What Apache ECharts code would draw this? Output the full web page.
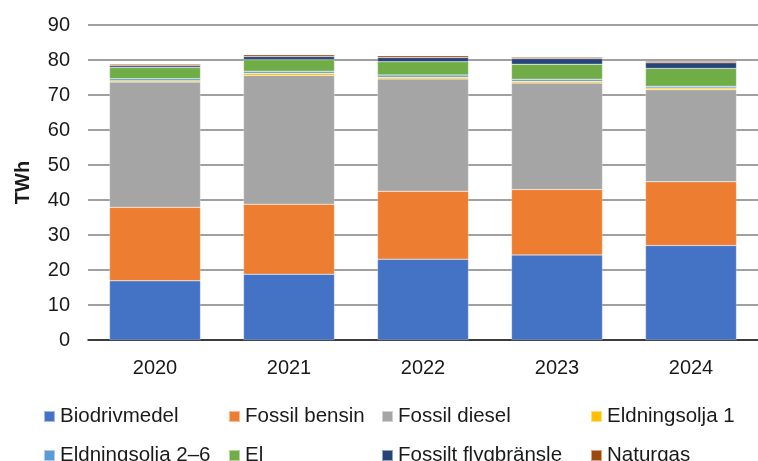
<!DOCTYPE html>
<html>
<head>
<meta charset="utf-8">
<script src="https://cdn.jsdelivr.net/npm/echarts@6/dist/echarts.min.js"></script>
<style>
  html, body { margin: 0; padding: 0; background: #fff; }
  #chart { width: 758px; height: 461px; }
</style>
</head>
<body>
<div id="chart"></div>
<script>
// Energy use in the transport sector by energy carrier, TWh per year
const years = ['2020', '2021', '2022', '2023', '2024'];
const yTicks = { min: 0, max: 90, step: 10 };

const biodrivmedel     = [16.9, 18.8, 23.1, 24.3, 27.0];
const fossilBensin     = [21.0, 20.0, 19.4, 18.7, 18.2];
const fossilDiesel     = [35.8, 36.8, 32.1, 30.4, 26.3];
const eldningsolja1    = [0.4, 0.6, 0.5, 0.5, 0.5];
const eldningsolja26   = [0.55, 0.6, 0.6, 0.6, 0.5];
const el               = [3.2, 3.3, 3.8, 4.3, 5.1];
const fossiltFlyg      = [0.5, 0.9, 1.2, 1.6, 1.6];
const naturgas         = [0.45, 0.5, 0.5, 0.4, 0.45];

const seriesDefs = [
  { name: 'Biodrivmedel', data: biodrivmedel, color: '#4472C4' },
  { name: 'Fossil bensin', data: fossilBensin, color: '#ED7D31' },
  { name: 'Fossil diesel', data: fossilDiesel, color: '#A5A5A5' },
  { name: 'Eldningsolja 1', data: eldningsolja1, color: '#FFC000' },
  { name: 'Eldningsolja 2–6', data: eldningsolja26, color: '#5B9BD5' },
  { name: 'El', data: el, color: '#70AD47' },
  { name: 'Fossilt flygbränsle', data: fossiltFlyg, color: '#264478' },
  { name: 'Naturgas', data: naturgas, color: '#9E480E' }
];

const font = '"Liberation Sans", Arial, sans-serif';

// Legend grid: four columns, two rows
const legendColumns = [43, 228, 381, 590];
const legendRows = [406, 445];

const chart = echarts.init(document.getElementById('chart'), null, { renderer: 'canvas' });

chart.setOption({
  animation: false,
  backgroundColor: '#fff',
  grid: { left: 88, top: 25, width: 676, height: 315, containLabel: false },
  legend: seriesDefs.map((s, i) => ({
    left: legendColumns[i % 4],
    top: legendRows[Math.floor(i / 4)],
    padding: 0,
    itemWidth: 11,
    itemHeight: 11,
    icon: 'rect',
    selectedMode: false,
    data: [s.name],
    textStyle: { fontFamily: font, fontSize: 20.5, color: '#1a1a1a' }
  })),
  xAxis: {
    type: 'category',
    data: years,
    axisLine: { lineStyle: { color: '#1a1a1a', width: 1.5 } },
    axisTick: { show: false },
    axisLabel: { fontFamily: font, fontSize: 20, color: '#1a1a1a', margin: 18 }
  },
  yAxis: {
    type: 'value',
    min: yTicks.min,
    max: yTicks.max,
    interval: yTicks.step,
    name: 'TWh',
    nameLocation: 'middle',
    nameRotate: 90,
    nameGap: 55,
    nameTextStyle: { fontFamily: font, fontSize: 20, fontWeight: 'bold', color: '#1a1a1a' },
    axisLine: { show: false },
    axisTick: { show: false },
    axisLabel: { fontFamily: font, fontSize: 20, color: '#1a1a1a', margin: 18 },
    splitLine: { lineStyle: { color: '#808080', width: 1.5 } }
  },
  series: seriesDefs.map(s => ({
    name: s.name,
    type: 'bar',
    stack: 'total',
    barWidth: 91,
    data: s.data,
    itemStyle: { color: s.color, borderColor: 'rgba(255,255,255,0.5)', borderWidth: 0.5 }
  }))
});
</script>
</body>
</html>
